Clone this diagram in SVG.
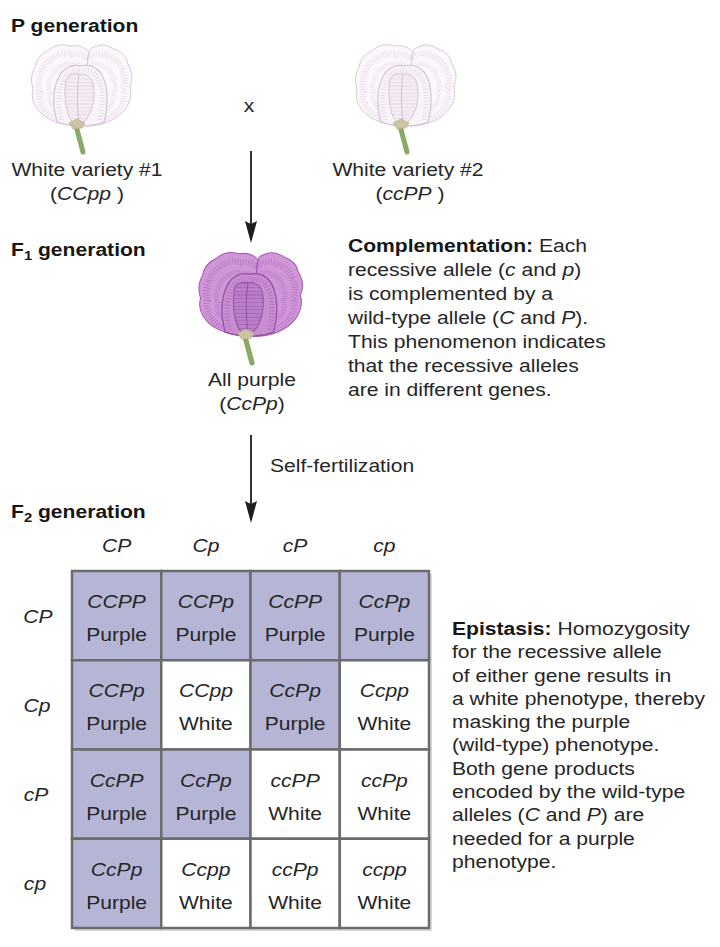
<svg xmlns="http://www.w3.org/2000/svg" xmlns:xlink="http://www.w3.org/1999/xlink" width="720" height="947" viewBox="0 0 720 947">
<style>
.t{font-family:"Liberation Sans",Arial,Helvetica,sans-serif;font-size:18.5px;fill:#262626}
.b{font-weight:bold;fill:#161616}
.i{font-style:italic}
.m{text-anchor:middle}
.sub{font-size:13px;font-weight:bold}
.outer{fill:var(--p1,#fbf7fb);stroke:var(--edge,#d9cadb);stroke-width:1}
.tex{fill:none;stroke:var(--vein,#e6d8e8);stroke-width:7;stroke-dasharray:0.9 2.1}
.inner{fill:var(--p2,#f9f4f9);stroke:var(--edge2,#d3c1d5);stroke-width:1.2}
.keel{fill:var(--p3,#f4ecf4);stroke:var(--edge2,#d3c1d5);stroke-width:1}
.ktex{fill:none;stroke:var(--kvein,#e5d7e6);stroke-width:30;stroke-dasharray:0.8 2.8}
.seam{fill:none;stroke:var(--edge2,#d3c1d5);stroke-width:1}
.stem{stroke:#8ba966;stroke-width:5;stroke-linecap:round}
.calyx{fill:#cbc4a2;stroke:#b3ab86;stroke-width:0.6}
.conn{stroke:#333;stroke-width:2;fill:none;marker-end:url(#ah)}
.cell{stroke:#6b6b6b;stroke-width:2.5}
.pu{fill:#b5b5d6}
.wh{fill:#ffffff}
</style>
<defs>
<marker id="ah" viewBox="0 0 22 12" refX="19" refY="6" markerWidth="22" markerHeight="12" markerUnits="userSpaceOnUse" orient="auto">
<path d="M0,0 L22,6 L0,12 L3,6 Z" fill="#1e1e1e"/>
</marker>
<path id="sil" d="M 2,40 C -15,41 -36,35 -44,24 Q -52,14 -49,3 Q -53,-9 -47,-19 Q -45,-31 -33,-36 Q -24,-44 -12,-40 Q 0,-42 7,-34 Q 8,-38 12,-39 Q 22,-44 32,-37 Q 44,-33 46,-22 Q 53,-11 48,0 Q 51,12 44,22 C 36,34 18,41 2,40 Z"/>
<clipPath id="keelClip"><path d="M -4,40 C -16,36 -19,10 -16,-6 Q -12,-14 -3,-12 Q 8,-13 11,-3 C 14,12 10,34 -4,40 Z"/></clipPath>
<clipPath id="silClip"><use xlink:href="#sil" href="#sil"/></clipPath>
<g id="flower">
<line class="stem" x1="-7" y1="36" x2="1" y2="66"/>
<use class="outer" xlink:href="#sil" href="#sil"/>
<g clip-path="url(#silClip)">
<use class="tex" xlink:href="#sil" href="#sil" transform="translate(0,3) scale(0.86)"/>
<use class="tex" xlink:href="#sil" href="#sil" transform="translate(0,5) scale(0.66)"/>
</g>
<path class="seam" d="M 7,-34 C 4,-20 3,10 2,40"/>
<path class="inner" d="M -25,36 C -30,18 -29,0 -21,-13 Q -12,-23 -1,-20 Q 10,-23 18,-14 C 26,-3 27,17 22,36 Q 0,44 -25,36 Z"/>
<path class="tex" style="stroke-width:5" d="M -21,34 C -25,18 -24,2 -17,-9 Q -10,-17 -1,-15 Q 8,-17 14,-10 C 21,0 22,16 18,34"/>
<path class="keel" d="M -4,40 C -16,36 -19,10 -16,-6 Q -12,-14 -3,-12 Q 8,-13 11,-3 C 14,12 10,34 -4,40 Z"/>
<line class="ktex" x1="-3" y1="40" x2="-3" y2="-14" clip-path="url(#keelClip)"/>
<path class="seam" d="M -3,38 C -5,20 -5,0 -3,-11"/>
<path class="calyx" d="M -13,37 L -5,33 L 3,37 L 0,42 L -9,43 Z"/>
</g>
</defs>
<rect width="720" height="947" fill="#ffffff"/>

<g id="labels-generations">
<text class="t b" transform="matrix(1.14 0 0 1 11 32)">P generation</text>
<text class="t b" transform="matrix(1.14 0 0 1 11 256)">F<tspan class="sub" dy="4">1</tspan><tspan dy="-4"> generation</tspan></text>
<text class="t b" transform="matrix(1.14 0 0 1 11 518)">F<tspan class="sub" dy="4">2</tspan><tspan dy="-4"> generation</tspan></text>
</g>

<g id="node-white1">
<use xlink:href="#flower" href="#flower" transform="translate(82,86)"/>
<text class="t m" transform="matrix(1.14 0 0 1 87 176)">White variety #1</text>
<text class="t m" transform="matrix(1.14 0 0 1 87 200)">(<tspan class="i">CCpp</tspan> )</text>
</g>

<g id="node-cross">
<text class="t m" transform="matrix(1.14 0 0 1 249 112)">x</text>
</g>

<g id="node-white2">
<use xlink:href="#flower" href="#flower" transform="translate(406,86)"/>
<text class="t m" transform="matrix(1.14 0 0 1 408 176)">White variety #2</text>
<text class="t m" transform="matrix(1.14 0 0 1 410 200)">(<tspan class="i">ccPP</tspan> )</text>
</g>

<g id="node-f1">
<use xlink:href="#flower" href="#flower" transform="translate(251,295) scale(1.03)" style="--p1:#d096d7;--p2:#c98dd2;--p3:#bb7fc7;--edge:#a35eb1;--edge2:#9150a1;--vein:#b374c1;--kvein:#a464b2"/>
<text class="t m" transform="matrix(1.14 0 0 1 252 386)">All purple</text>
<text class="t m" transform="matrix(1.14 0 0 1 252 410)">(<tspan class="i">CcPp</tspan>)</text>
</g>

<g id="node-complementation">
<text class="t" transform="matrix(1.14 0 0 1 348 252)"><tspan x="0" class="b">Complementation:</tspan><tspan> Each</tspan><tspan x="0" dy="24">recessive allele (<tspan class="i">c</tspan> and <tspan class="i">p</tspan>)</tspan><tspan x="0" dy="24">is complemented by a</tspan><tspan x="0" dy="24">wild-type allele (<tspan class="i">C</tspan> and <tspan class="i">P</tspan>).</tspan><tspan x="0" dy="24">This phenomenon indicates</tspan><tspan x="0" dy="24">that the recessive alleles</tspan><tspan x="0" dy="24">are in different genes.</tspan></text>
</g>

<g id="node-selffert">
<text class="t" transform="matrix(1.14 0 0 1 270 472)">Self-fertilization</text>
</g>

<g id="connectors">
<line class="conn" x1="251" y1="151" x2="251" y2="240"/>
<line class="conn" x1="251" y1="435" x2="251" y2="520"/>
</g>

<g id="punnett">
<rect x="75" y="574" width="357" height="357" fill="#d9d9d9"/>
<g id="col-headers">
<text class="t i m" transform="matrix(1.14 0 0 1 116.6 552)">CP</text>
<text class="t i m" transform="matrix(1.14 0 0 1 205.9 552)">Cp</text>
<text class="t i m" transform="matrix(1.14 0 0 1 295.1 552)">cP</text>
<text class="t i m" transform="matrix(1.14 0 0 1 384.4 552)">cp</text>
</g>
<g id="row-headers">
<text class="t i m" transform="matrix(1.14 0 0 1 38 622.6)">CP</text>
<text class="t i m" transform="matrix(1.14 0 0 1 37 711.9)">Cp</text>
<text class="t i m" transform="matrix(1.14 0 0 1 36 801.1)">cP</text>
<text class="t i m" transform="matrix(1.14 0 0 1 35 890.4)">cp</text>
</g>
<g id="cell-r1c1"><rect class="cell pu" x="72" y="571" width="89.25" height="89.25"/><text class="t i m" transform="matrix(1.14 0 0 1 116.6 608)">CCPP</text><text class="t m" transform="matrix(1.14 0 0 1 116.6 641)">Purple</text></g>
<g id="cell-r1c2"><rect class="cell pu" x="161.25" y="571" width="89.25" height="89.25"/><text class="t i m" transform="matrix(1.14 0 0 1 205.9 608)">CCPp</text><text class="t m" transform="matrix(1.14 0 0 1 205.9 641)">Purple</text></g>
<g id="cell-r1c3"><rect class="cell pu" x="250.5" y="571" width="89.25" height="89.25"/><text class="t i m" transform="matrix(1.14 0 0 1 295.1 608)">CcPP</text><text class="t m" transform="matrix(1.14 0 0 1 295.1 641)">Purple</text></g>
<g id="cell-r1c4"><rect class="cell pu" x="339.75" y="571" width="89.25" height="89.25"/><text class="t i m" transform="matrix(1.14 0 0 1 384.4 608)">CcPp</text><text class="t m" transform="matrix(1.14 0 0 1 384.4 641)">Purple</text></g>

<g id="cell-r2c1"><rect class="cell pu" x="72" y="660.25" width="89.25" height="89.25"/><text class="t i m" transform="matrix(1.14 0 0 1 116.6 697.3)">CCPp</text><text class="t m" transform="matrix(1.14 0 0 1 116.6 730.3)">Purple</text></g>
<g id="cell-r2c2"><rect class="cell wh" x="161.25" y="660.25" width="89.25" height="89.25"/><text class="t i m" transform="matrix(1.14 0 0 1 205.9 697.3)">CCpp</text><text class="t m" transform="matrix(1.14 0 0 1 205.9 730.3)">White</text></g>
<g id="cell-r2c3"><rect class="cell pu" x="250.5" y="660.25" width="89.25" height="89.25"/><text class="t i m" transform="matrix(1.14 0 0 1 295.1 697.3)">CcPp</text><text class="t m" transform="matrix(1.14 0 0 1 295.1 730.3)">Purple</text></g>
<g id="cell-r2c4"><rect class="cell wh" x="339.75" y="660.25" width="89.25" height="89.25"/><text class="t i m" transform="matrix(1.14 0 0 1 384.4 697.3)">Ccpp</text><text class="t m" transform="matrix(1.14 0 0 1 384.4 730.3)">White</text></g>

<g id="cell-r3c1"><rect class="cell pu" x="72" y="749.5" width="89.25" height="89.25"/><text class="t i m" transform="matrix(1.14 0 0 1 116.6 786.5)">CcPP</text><text class="t m" transform="matrix(1.14 0 0 1 116.6 819.5)">Purple</text></g>
<g id="cell-r3c2"><rect class="cell pu" x="161.25" y="749.5" width="89.25" height="89.25"/><text class="t i m" transform="matrix(1.14 0 0 1 205.9 786.5)">CcPp</text><text class="t m" transform="matrix(1.14 0 0 1 205.9 819.5)">Purple</text></g>
<g id="cell-r3c3"><rect class="cell wh" x="250.5" y="749.5" width="89.25" height="89.25"/><text class="t i m" transform="matrix(1.14 0 0 1 295.1 786.5)">ccPP</text><text class="t m" transform="matrix(1.14 0 0 1 295.1 819.5)">White</text></g>
<g id="cell-r3c4"><rect class="cell wh" x="339.75" y="749.5" width="89.25" height="89.25"/><text class="t i m" transform="matrix(1.14 0 0 1 384.4 786.5)">ccPp</text><text class="t m" transform="matrix(1.14 0 0 1 384.4 819.5)">White</text></g>

<g id="cell-r4c1"><rect class="cell pu" x="72" y="838.75" width="89.25" height="89.25"/><text class="t i m" transform="matrix(1.14 0 0 1 116.6 875.8)">CcPp</text><text class="t m" transform="matrix(1.14 0 0 1 116.6 908.8)">Purple</text></g>
<g id="cell-r4c2"><rect class="cell wh" x="161.25" y="838.75" width="89.25" height="89.25"/><text class="t i m" transform="matrix(1.14 0 0 1 205.9 875.8)">Ccpp</text><text class="t m" transform="matrix(1.14 0 0 1 205.9 908.8)">White</text></g>
<g id="cell-r4c3"><rect class="cell wh" x="250.5" y="838.75" width="89.25" height="89.25"/><text class="t i m" transform="matrix(1.14 0 0 1 295.1 875.8)">ccPp</text><text class="t m" transform="matrix(1.14 0 0 1 295.1 908.8)">White</text></g>
<g id="cell-r4c4"><rect class="cell wh" x="339.75" y="838.75" width="89.25" height="89.25"/><text class="t i m" transform="matrix(1.14 0 0 1 384.4 875.8)">ccpp</text><text class="t m" transform="matrix(1.14 0 0 1 384.4 908.8)">White</text></g>
</g>

<g id="node-epistasis">
<text class="t" transform="matrix(1.14 0 0 1 452 635)"><tspan x="0" class="b">Epistasis:</tspan><tspan> Homozygosity</tspan><tspan x="0" dy="23.3">for the recessive allele</tspan><tspan x="0" dy="23.3">of either gene results in</tspan><tspan x="0" dy="23.3">a white phenotype, thereby</tspan><tspan x="0" dy="23.3">masking the purple</tspan><tspan x="0" dy="23.3">(wild-type) phenotype.</tspan><tspan x="0" dy="23.3">Both gene products</tspan><tspan x="0" dy="23.3">encoded by the wild-type</tspan><tspan x="0" dy="23.3">alleles (<tspan class="i">C</tspan> and <tspan class="i">P</tspan>) are</tspan><tspan x="0" dy="23.3">needed for a purple</tspan><tspan x="0" dy="23.3">phenotype.</tspan></text>
</g>
</svg>
